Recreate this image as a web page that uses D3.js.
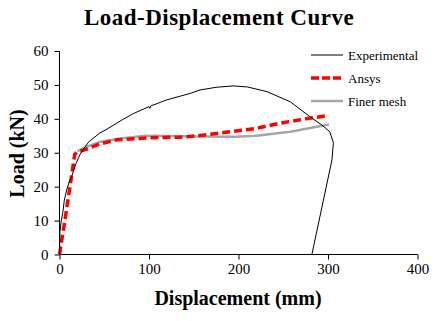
<!DOCTYPE html>
<html><head><meta charset="utf-8">
<script src="https://cdn.jsdelivr.net/npm/d3@7/dist/d3.min.js"></script>
<style>body{margin:0;background:#fff}svg{display:block}text{font-family:"Liberation Serif","Times New Roman",serif}</style>
</head><body>
<script>
const title = "Load-Displacement Curve";
const xLabel = "Displacement (mm)";
const yLabel = "Load (kN)";
const xTicks = [0, 100, 200, 300, 400];
const yTicks = [0, 10, 20, 30, 40, 50, 60];
const seriesNames = ["Experimental", "Ansys", "Finer mesh"];
const experimental = [[0,0],[0.5,6.7],[2,10],[3.5,12],[5.4,16],[8,19],[11,21.5],[13,22.5],[18.5,26.9],[23,29.5],[26,30.8],[33,33.3],[45,35.8],[52,36.8],[70,39.7],[83,41.6],[100,43.6],[101,43.1],[102,43.8],[120,45.6],[146,47.5],[157,48.5],[175,49.3],[194,49.7],[210,49.4],[232,48],[258,45],[280,40.6],[293,38.2],[302,36.2],[306,33],[304.5,28],[282,0]];
const ansys = [[0,0],[6,10],[11.7,20],[17,29.5],[20,30.3],[30,31],[45,32.6],[64,33.8],[100,34.4],[135,34.6],[155,35],[190,36.2],[220,37.2],[246,38.7],[275,40],[301,41]];
const finer = [[20,30.5],[30,31.7],[45,33.2],[70,34.3],[97,35],[157,34.8],[196,34.7],[220,35],[258,36.2],[280,37.3],[301,38.3]];

const W = 447, H = 321;
const svg = d3.select("body").append("svg").attr("width", W).attr("height", H);
const x = d3.scaleLinear().domain([0, 400]).range([59.5, 417.5]);
const y = d3.scaleLinear().domain([0, 60]).range([254.5, 51]);

svg.append("text").attr("x", 219).attr("y", 24.5).attr("text-anchor", "middle")
  .style("font-size", "23px").style("font-weight", "bold").style("letter-spacing", "0.5px").text(title);

const xa = svg.append("g").attr("transform", "translate(0,254.5)")
  .call(d3.axisBottom(x).tickValues(xTicks).tickSize(5).tickPadding(4));
const ya = svg.append("g").attr("transform", "translate(59.5,0)")
  .call(d3.axisLeft(y).tickValues(yTicks).tickSize(5).tickPadding(6));
[xa, ya].forEach(a => {
  a.selectAll("path,line").attr("stroke", "#000").attr("stroke-width", 1);
  a.selectAll("text").style("font-family", "'Liberation Serif',serif").style("font-size", "15px").attr("fill", "#000");
});
xa.select(".domain").attr("d", "M59.5,0H417.5");
ya.select(".domain").attr("d", "M0,51V254.5");

svg.append("text").attr("x", 238).attr("y", 305).attr("text-anchor", "middle")
  .style("font-size", "20px").style("font-weight", "bold").text(xLabel);
svg.append("text").attr("transform", "translate(23.5,153.5) rotate(-90)").attr("text-anchor", "middle")
  .style("font-size", "20px").style("font-weight", "bold").text(yLabel);

const line = d3.line().x(d => x(d[0])).y(d => y(d[1]));
const styles = [
  {data: experimental, stroke: "#000", w: 1, dash: null},
  {data: ansys, stroke: "#ff0000", w: 3.5, dash: "8,4"},
  {data: finer, stroke: "#a6a6a6", w: 2.5, dash: null}
];
[styles[2], styles[1], styles[0]].forEach(s => {
  svg.append("path").datum(s.data).attr("d", line).attr("fill", "none")
    .attr("stroke", s.stroke).attr("stroke-width", s.w).attr("stroke-dasharray", s.dash);
});

const lg = svg.append("g");
styles.forEach((s, i) => {
  const yy = 55 + i * 23;
  lg.append("line").attr("x1", 311).attr("x2", 343).attr("y1", yy).attr("y2", yy)
    .attr("stroke", s.stroke).attr("stroke-width", s.w).attr("stroke-dasharray", s.dash ? "8,3" : null);
  lg.append("text").attr("x", 348).attr("y", yy + 4.5).style("font-size", "13px").text(seriesNames[i]);
});
</script>
</body></html>
